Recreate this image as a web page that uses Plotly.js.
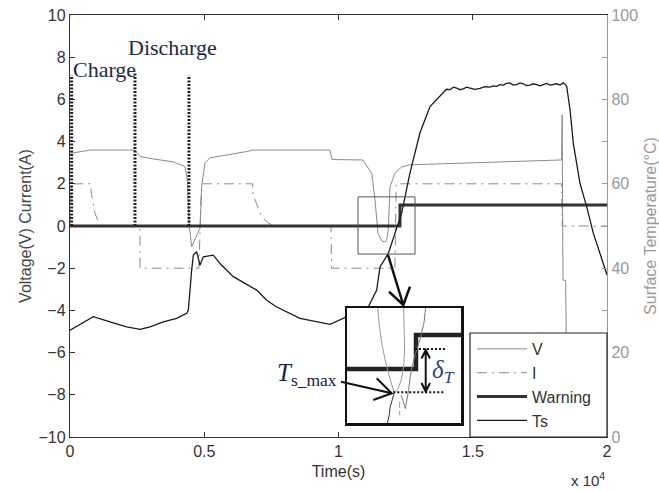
<!DOCTYPE html>
<html><head><meta charset="utf-8">
<script src="https://cdn.plot.ly/plotly-3.0.1.min.js"></script>
<style>html,body{margin:0;padding:0;background:#fff}#chart{width:659px;height:491px}</style>
</head><body><div id="chart"></div>
<script>
// ---------------- data (time in s) ----------------
const tV = [0,60,750,2420,2600,3090,3840,4283,4369,4406,4443,4531,4620,4717,4842,4904,5028,5214,5836,6331,6580,6820,9680,9760,10900,11240,11360,11470,11610,11700,11790,11855,11920,12100,12350,12660,18310,18330,18360,18460,18480,20000];
const voltage = [3.45,3.45,3.6,3.6,3.3,3.18,3.04,2.82,2.19,1.24,0,-0.98,-0.75,-0.5,-0.1,1.87,3.0,3.23,3.37,3.45,3.53,3.6,3.6,3.15,3.13,2.5,1.24,-0.35,-0.7,-0.75,-0.7,-0.2,1.86,2.5,2.8,2.9,3.13,5.27,-2.57,-2.57,-5.1,-5.1];

const tI = [0,50,745,800,930,1120,2600,2610,4800,4900,6800,6820,6950,7140,7330,7570,9720,9740,12100,12150,18310,18330,20000];
const current = [0,2,2,1.5,0.6,0,0,-2,-2,2,2,1.5,1.05,0.45,0.2,0,0,-2,-2,2,2,0,0];

const tW = [0,12290,20000];
const warning = [0,1,1];

const tTs = [0,868,1490,2110,2607,2980,3476,3972,4345,4406,4531,4593,4717,4842,4965,5337,5587,6082,6953,7326,7698,8566,9683,10305,11110,11422,11546,11855,12354,12663,13035,13408,13892,14020,14153,14280,14402,14520,14648,14770,14898,15080,15270,15450,15642,15760,15892,16010,16138,16260,16387,16510,16637,16760,16883,17000,17132,17250,17382,17500,17628,17750,17877,18000,18127,18250,18372,18440,18498,18622,18746,18994,19243,19490,19739,19963,20000];
const tempTs = [25.3,28.5,27.3,26.1,25.5,26.1,27.3,28.1,29.3,30.0,39.5,43.1,43.9,40.7,42.7,43.1,41.1,38.0,34.8,32.4,30.8,28.1,26.7,28.5,30.8,34.8,40.3,43.5,53.1,62.6,72.1,78.3,81.6,82.4,82.3,82.9,82.7,82.3,82.5,82.9,82.7,82.4,82.6,83.0,82.9,83.2,83.1,83.5,83.4,83.8,83.9,83.4,83.5,83.9,83.7,83.3,83.4,83.7,83.5,83.2,83.5,83.8,83.4,83.6,83.7,83.4,83.9,83.5,83.1,77.6,69.6,60.1,54.6,48.3,43.5,38.8,38.4];

// charge / discharge markers
const markerTimes = [60, 2420, 4430];
const markerTops = [7.15, 7.3, 7.15];

// zoom window shown in the inset
const zoomT = [10726, 12849];
const zoomV = [-1.33, 1.38];

// inset (schematic zoom) curves
const insetRangeT = [11685, 12685];
const insetRangeV = [-1.593, 1.797];
const insetTsT = [12040,12055,12064,12078,12099];
const insetTsV = [-1.593,-1.366,-1.118,-0.922,-0.705];
const insetAT = [12099,12078,12049,12019,11990,11969,11954];
const insetAV = [-0.705,-0.478,-0.132,0.265,0.760,1.255,1.797];
const insetCT = [12099,12129,12161,12182,12191,12188,12182];
const insetCV = [-0.705,-0.603,-0.329,0.068,0.563,1.153,1.797];
const insetDT = [12158,12176,12197,12212,12226,12235,12256,12286,12324,12360,12374];
const insetDV = [-0.773,-0.922,-1.169,-0.922,-0.624,-0.329,0.068,0.461,0.858,1.353,1.797];
const insetIT = [12147,12147];
const insetIV = [-0.97,-1.366];
const deltaLevels = [0.587, -0.688];

// ---------------- helpers for decorations (pixel -> paper) ----------------
const PL=70, PR=607, PT=15, PB=437;
const px = x => (x-PL)/(PR-PL);
const py = y => (PB-y)/(PB-PT);
function path(pts){ return pts.map((seg)=> 'M'+seg.map(p=>px(p[0]).toFixed(4)+','+py(p[1]).toFixed(4)).join('L')).join(' '); }

const GRAY = '#8a8a8a';
const traces = [
  {x:tV, y:voltage, name:'V', type:'scatter', mode:'lines', line:{color:GRAY, width:1}},
  {x:tI, y:current, name:'I', type:'scatter', mode:'lines', line:{color:GRAY, width:1, dash:'10px,5px,2px,5px'}},
  {x:tW, y:warning, name:'Warning', type:'scatter', mode:'lines', line:{color:'#333', width:3, shape:'hv'}},
  {x:tTs, y:tempTs, name:'Ts', type:'scatter', mode:'lines', yaxis:'y2', line:{color:'#1a1a1a', width:1.3}},
  // inset
  {x:tW, y:warning, xaxis:'x2', yaxis:'y3', mode:'lines', showlegend:false, line:{color:'#222', width:4.5, shape:'hv'}},
  {x:insetAT, y:insetAV, xaxis:'x2', yaxis:'y3', mode:'lines', showlegend:false, line:{color:'#999', width:1}},
  {x:insetCT, y:insetCV, xaxis:'x2', yaxis:'y3', mode:'lines', showlegend:false, line:{color:'#999', width:1}},
  {x:insetDT, y:insetDV, xaxis:'x2', yaxis:'y3', mode:'lines', showlegend:false, line:{color:'#777', width:1}},
  {x:insetTsT, y:insetTsV, xaxis:'x2', yaxis:'y3', mode:'lines', showlegend:false, line:{color:'#333', width:1}},
  {x:insetIT, y:insetIV, xaxis:'x2', yaxis:'y3', mode:'lines', showlegend:false, line:{color:'#999', width:1, dash:'6px,3px'}}
];

const shapes = [];
markerTimes.forEach((t,i)=>shapes.push({type:'line', xref:'x', yref:'y', x0:t, x1:t, y0:0, y1:markerTops[i], line:{color:'#222', width:3, dash:'2px,1.5px'}, layer:'above'}));
shapes.push({type:'rect', xref:'x', yref:'y', x0:zoomT[0], x1:zoomT[1], y0:zoomV[0], y1:zoomV[1], line:{color:'#555', width:1}, layer:'above'});
// inset dotted levels
shapes.push({type:'line', xref:'x2', yref:'y3', x0:12281, x1:12545, y0:deltaLevels[0], y1:deltaLevels[0], line:{color:'#111', width:2, dash:'2px,2px'}, layer:'above'});
shapes.push({type:'line', xref:'x2', yref:'y3', x0:12091, x1:12545, y0:deltaLevels[1], y1:deltaLevels[1], line:{color:'#111', width:2, dash:'2px,2px'}, layer:'above'});
// arrows
shapes.push({type:'path', xref:'paper', yref:'paper', path:path([[[388,255],[403.3,305]],[[389,291.7],[403.3,305],[410,286.7]]]), line:{color:'#111', width:2.5}, layer:'above'});
shapes.push({type:'path', xref:'paper', yref:'paper', path:path([[[341,381.7],[391.7,393.3]],[[376.7,378.3],[391.7,393.3],[373.3,400]]]), line:{color:'#111', width:2}, layer:'above'});
shapes.push({type:'path', xref:'paper', yref:'paper', path:path([[[425.7,350],[425.7,391.5]],[[421.5,358.5],[425.7,350],[430,358.5]],[[421.5,383],[425.7,391.5],[430,383]]]), line:{color:'#111', width:2}, layer:'above'});
// legend box
shapes.push({type:'rect', xref:'paper', yref:'paper', x0:px(470), x1:px(607), y0:py(437), y1:py(333), fillcolor:'#fff', line:{color:'#222', width:1.2}, layer:'above'});

const NAVY = '#1c2a4a';
const annotations = [
  {xref:'paper', yref:'paper', x:px(104.5), y:py(69), text:'Charge', showarrow:false, xanchor:'center', yanchor:'middle', font:{family:'Liberation Serif, Times New Roman, serif', size:22, color:NAVY}},
  {xref:'paper', yref:'paper', x:px(172), y:py(47), text:'Discharge', showarrow:false, xanchor:'center', yanchor:'middle', font:{family:'Liberation Serif, Times New Roman, serif', size:22, color:NAVY}},
  {xref:'paper', yref:'paper', x:px(275), y:py(374), text:'<i>T</i><sub>s_max</sub>', showarrow:false, xanchor:'left', yanchor:'middle', font:{family:'Liberation Serif, Times New Roman, serif', size:25, color:'#15213d'}},
  {xref:'paper', yref:'paper', x:px(443), y:py(371), text:'<i>δ</i><sub><i>T</i></sub>', showarrow:false, xanchor:'center', yanchor:'middle', font:{family:'Liberation Serif, Times New Roman, serif', size:25, color:'#2a4383'}},
  {xref:'paper', yref:'paper', x:px(588), y:py(490), text:'x 10<sup>4</sup>', showarrow:false, xanchor:'center', yanchor:'bottom', borderpad:0, font:{size:15, color:'#333'}}
];

const layout = {
  width:659, height:491,
  margin:{l:70, r:52, t:15, b:54, pad:0},
  paper_bgcolor:'#fff', plot_bgcolor:'#fff',
  font:{family:'Liberation Sans, Arial, sans-serif', size:16, color:'#333'},
  showlegend:true,
  legend:{x:px(472), y:py(332), xanchor:'left', yanchor:'top', bgcolor:'rgba(0,0,0,0)', borderwidth:0, font:{size:16, color:'#333'}, itemwidth:50, tracegroupgap:0},
  xaxis:{domain:[0,1], range:[0,20000], tickvals:[0,5000,10000,15000,20000], ticktext:['0','0.5','1','1.5','2'], ticks:'inside', ticklen:5, tickcolor:'#333', showline:true, linecolor:'#333', linewidth:1.2, mirror:'ticks', showgrid:false, zeroline:false, title:{text:'Time(s)', standoff:6, font:{size:16,color:'#333'}}},
  yaxis:{range:[-10,10], tickvals:[-10,-8,-6,-4,-2,0,2,4,6,8,10], ticks:'inside', ticklen:5, tickcolor:'#333', showline:true, linecolor:'#333', linewidth:1.2, showgrid:false, zeroline:false, title:{text:'Voltage(V) Current(A)', standoff:2, font:{size:16,color:'#444'}}},
  yaxis2:{overlaying:'y', side:'right', range:[0,100], tickvals:[0,20,40,60,80,100], ticks:'inside', ticklen:5, tickcolor:'#999', minor:{tickvals:[10,30,50,70,90], ticks:'inside', ticklen:5, tickcolor:'#999', showgrid:false}, showline:true, linecolor:'#999', linewidth:1.2, tickfont:{color:'#999', size:16}, showgrid:false, zeroline:false, title:{text:'Surface Temperature(°C)', standoff:8, font:{size:16, color:'#999'}}},
  xaxis2:{domain:[px(347), px(461)], anchor:'y3', range:insetRangeT, showticklabels:false, ticks:'', showline:true, mirror:true, linecolor:'#111', linewidth:2.5, showgrid:false, zeroline:false},
  yaxis3:{domain:[py(423), py(308)], anchor:'x2', range:insetRangeV, showticklabels:false, ticks:'', showline:true, mirror:true, linecolor:'#111', linewidth:2.5, showgrid:false, zeroline:false},
  shapes:shapes, annotations:annotations
};

Plotly.newPlot('chart', traces, layout, {displayModeBar:false, staticPlot:true});
</script></body></html>
